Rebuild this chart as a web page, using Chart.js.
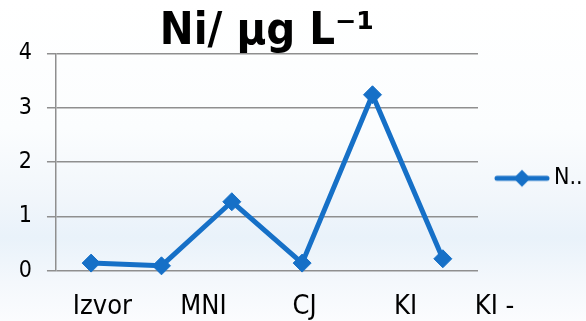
<!DOCTYPE html>
<html>
<head>
<meta charset="utf-8">
<script src="https://cdn.jsdelivr.net/npm/chart.js@4"></script>
<style>
  html, body { margin: 0; padding: 0; }
  body {
    width: 586px; height: 321px; overflow: hidden;
    background: linear-gradient(to bottom, #ffffff 0%, #fbfdfe 40%, #f1f6fb 62%, #e9f2fa 74%, #f4f8fc 88%, #fbfcfe 100%);
  }
  #c { display: block; }
</style>
</head>
<body>
<canvas id="c" width="586" height="321"></canvas>
<script>
// ---- data ----
const categories = ['Izvor', 'MNI', 'CJ', 'KI', 'KI -', ''];
const niValues = [0.14, 0.09, 1.27, 0.14, 3.24, 0.22];
const tickLabels = ['Izvor', 'MNI', 'CJ', 'KI', 'KI -'];
const yTicks = [0, 1, 2, 3, 4];
const seriesName = 'N..';
const chartTitle = 'Ni/ μg L⁻¹';

const BLUE = '#1670c7';
const GRID = '#8f8f8f';
const FONT = '"DejaVu Sans Condensed", "DejaVu Sans", sans-serif';

// legend marker: line with diamond
const marker = document.createElement('canvas');
marker.width = 56; marker.height = 20;
(function () {
  const g = marker.getContext('2d');
  g.strokeStyle = BLUE; g.lineWidth = 5; g.lineCap = 'round';
  g.beginPath(); g.moveTo(3, 10); g.lineTo(53, 10); g.stroke();
  g.fillStyle = BLUE;
  g.beginPath(); g.moveTo(28, 1.5); g.lineTo(36.5, 10); g.lineTo(28, 18.5); g.lineTo(19.5, 10); g.closePath(); g.fill();
})();

// positions of the category text along the bottom (layout only)
const labelSlots = [0, 1, 2, 3, 3.88];

new Chart(document.getElementById('c'), {
  type: 'line',
  data: {
    labels: categories,
    datasets: [{
      label: seriesName,
      data: niValues,
      borderColor: BLUE,
      backgroundColor: BLUE,
      borderWidth: 5,
      borderJoinStyle: 'round',
      pointStyle: 'rectRot',
      pointRadius: 9,
      pointHoverRadius: 9,
      pointBorderWidth: 1,
      pointBackgroundColor: BLUE,
      pointBorderColor: BLUE,
      tension: 0,
      clip: false
    }]
  },
  options: {
    responsive: false,
    animation: false,
    devicePixelRatio: 1,
    layout: { padding: { left: 3.8, right: 0, top: 0, bottom: -22.3 } },
    plugins: {
      tooltip: { enabled: false },
      title: {
        display: true,
        text: chartTitle,
        fullSize: false,
        color: '#000',
        font: { family: FONT, size: 45, weight: 'bold', lineHeight: 1 },
        padding: { top: 10, bottom: -1.5 }
      },
      legend: {
        position: 'right',
        fullSize: false,
        maxWidth: 108,
        title: { display: true, text: '', padding: 0, font: { family: FONT, size: 27, lineHeight: 1.2 } },
        labels: {
          usePointStyle: true,
          pointStyle: marker,
          pointStyleWidth: 41,
          padding: 23.5,
          color: '#000',
          font: { family: FONT, size: 23 }
        }
      }
    },
    scales: {
      x: {
        type: 'category',
        display: false,
        offset: true
      },
      xl: {
        type: 'linear',
        position: 'bottom',
        min: -0.4596,
        max: 3.716,
        grid: { display: false, drawTicks: false },
        border: { display: false },
        afterBuildTicks: (scale) => { scale.ticks = labelSlots.map(v => ({ value: v })); },
        ticks: {
          autoSkip: false,
          maxRotation: 0,
          padding: 22.8,
          color: '#000',
          font: { family: FONT, size: 27, lineHeight: 1 },
          callback: (v, i) => tickLabels[i]
        }
      },
      y: {
        min: 0,
        max: 4,
        afterBuildTicks: (scale) => { scale.ticks = yTicks.map(v => ({ value: v })); },
        grid: { color: GRID, lineWidth: 1.5, tickLength: 9, drawTicks: true },
        border: { display: true, color: GRID, width: 1.5 },
        ticks: {
          padding: 15,
          color: '#000',
          font: { family: FONT, size: 23, lineHeight: 1.2 },
          callback: (v) => String(v)
        }
      }
    }
  }
});
</script>
</body>
</html>
